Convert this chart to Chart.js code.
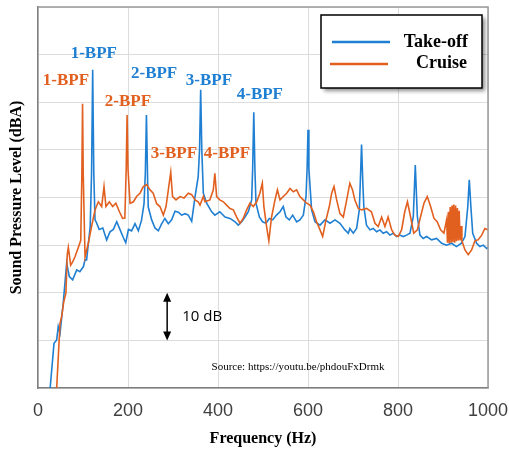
<!DOCTYPE html>
<html>
<head>
<meta charset="utf-8">
<script src="https://cdn.jsdelivr.net/npm/chart.js@4.4.0/dist/chart.umd.min.js"></script>
<style>
  html, body { margin: 0; padding: 0; background: #fff; }
</style>
</head>
<body>
<canvas id="spl" width="509" height="450"></canvas>
<script>
// values (Hz, relative dB; 10 dB per grid step)
const takeoffHz = [27, 35.6, 41.5, 45, 49, 56, 63.7, 69.6, 77, 86, 93, 101, 104.5, 108, 116, 119, 121.5, 124, 126.7, 130, 136, 144, 149, 152.6, 160, 167.4, 175, 182, 189.6, 195, 201, 208, 215.6, 223, 230, 235.6, 238.5, 241, 243.5, 245, 252.6, 260, 267.4, 275, 282, 289.6, 297, 304.5, 312, 319, 326.7, 334, 341.5, 349, 356, 359, 361.5, 364, 367.4, 374.8, 386, 393, 404, 415.6, 426.7, 437.8, 445, 452.6, 460, 467.4, 474.8, 477, 479.5, 482, 484.4, 491.9, 499, 506.7, 514, 521.5, 530, 537.8, 545, 551, 558.5, 566, 574.8, 582, 589.6, 595.6, 598, 600, 602, 608, 615.6, 626.7, 637.8, 649, 660, 671, 682, 689.6, 693, 700.6, 708, 714, 716.5, 719, 721.5, 724, 730, 737.7, 745, 752.5, 760, 767, 774.7, 782, 789.5, 797, 804, 811.7, 819, 826.6, 834, 838.4, 843, 848.8, 856, 863.6, 874.7, 885.8, 897, 908, 919, 930, 941, 948.8, 955, 958.4, 962, 966, 974.7, 982, 989.5, 997, 1000];
const takeoffDb = [0, 9.4, 10.1, 12.9, 11.5, 17.8, 26.2, 23.4, 22.7, 24.8, 24.4, 25.5, 26.9, 26.9, 33.9, 45, 66.8, 45, 35.3, 34.7, 33.3, 33.6, 32.1, 31.1, 32.8, 33.3, 34.9, 33.3, 31.6, 30.5, 33.3, 33, 34.5, 33, 35.2, 38.7, 45, 57.3, 44, 38, 35.3, 33.6, 33, 34.5, 35.6, 34.5, 35.3, 37.1, 36.9, 36.3, 36.6, 36.3, 35, 40.2, 44.4, 50, 62.6, 50, 40.9, 38.8, 37, 36.3, 37, 35.9, 35.6, 34.9, 34.2, 34.9, 35.9, 37, 39.5, 46, 57.9, 46, 38.8, 35.9, 34.9, 34.6, 35.6, 35.3, 36.3, 37, 38.1, 35.9, 35.3, 36.3, 34.9, 35.3, 36.3, 40.2, 46, 54.2, 46, 37.4, 34.9, 34.2, 35.3, 34.6, 35.3, 34.6, 33.2, 32.5, 33.5, 32.5, 33.5, 37.4, 44, 51.1, 44, 38.1, 34.2, 33.2, 33.5, 32.8, 33.2, 32.5, 32.8, 32.1, 32.5, 31.8, 32.1, 31.8, 32.1, 32.5, 36, 46.8, 36, 32.1, 31.4, 31.8, 31.1, 31.4, 30.4, 30, 30.4, 29.7, 30.4, 31.8, 38, 43.7, 38, 32.5, 30.4, 29.7, 30, 29.3, 29.5];

const cruiseHz = [41.5, 49, 52.6, 57, 62, 65, 67.4, 72.6, 77, 82, 89.6, 95, 97.5, 99, 100.5, 104.5, 112, 119, 126.7, 134, 141.5, 146.7, 151, 158.5, 166, 173, 181, 188, 193, 196, 198, 200, 204.5, 212, 219, 226.7, 234, 241.5, 249, 256, 263.7, 271, 278.5, 284.5, 289.6, 295, 299, 306.7, 315.6, 324.5, 334, 341.5, 349, 356, 360, 367.4, 371, 382, 389.6, 393, 397, 404, 412, 419, 426.7, 434, 441.5, 449, 456, 463.7, 471, 478.5, 486, 493, 498.5, 502, 508, 513, 519, 526.7, 532, 537.8, 545, 552.6, 560, 567.4, 574.8, 582, 589.6, 597, 604.4, 612, 619, 626.7, 632.6, 640, 647.4, 652.6, 657.8, 663.7, 671, 678.5, 686, 693, 699, 704, 711.7, 719, 730, 741, 748.8, 756, 763.6, 771, 778, 786, 793, 800.6, 808, 815, 821, 828, 835, 843, 850, 857.7, 865, 872.5, 880, 887, 894.7, 902, 908, 910, 912, 914, 916, 918, 920, 922, 924, 926, 928, 930, 932, 934, 936, 938, 940, 942, 948.8, 956, 963.6, 971, 978, 986, 993, 1000];
const cruiseDb = [0, 13.6, 15, 18, 19.9, 28, 29.5, 25.8, 26.5, 27.5, 29.5, 31, 45, 59.7, 45, 27.5, 30.5, 33.9, 37.4, 39.1, 38.1, 42.3, 38.1, 39.1, 38.1, 38.8, 37, 35.6, 35.7, 46, 57.3, 46, 38.8, 39.1, 40.2, 40.9, 42.3, 42.7, 41.6, 40.9, 38.7, 38.1, 36.3, 38.1, 41.6, 45.3, 40.2, 39.5, 40.2, 39.9, 40.9, 40.6, 39.5, 39.1, 38.4, 40.2, 39.1, 39.5, 41.6, 45.1, 40.2, 39.5, 39.1, 38.4, 37.7, 37.4, 35.9, 34.6, 35.6, 37.4, 38.8, 38.1, 39.1, 40.9, 43, 38.1, 33.9, 30.9, 35.9, 39.5, 41.6, 39.5, 40.2, 40.9, 41.9, 41.2, 41.6, 40.2, 39.5, 38.8, 38.4, 37, 34.9, 33.2, 31.8, 35.3, 38.1, 40.9, 42.3, 39.5, 36.6, 35.9, 39.5, 43, 41.6, 39.5, 37.7, 37.4, 37.7, 37, 34.6, 33.9, 35.9, 33.9, 35.9, 33.2, 32.1, 31.8, 33.2, 37, 39.1, 35.9, 32.5, 33.2, 35.9, 38.8, 40.2, 38.1, 35.6, 34.9, 33.2, 32.5, 35.3, 30.5, 37, 30.4, 38, 30.5, 38.3, 30.6, 38.5, 30.5, 38.3, 30.8, 37.8, 31, 37.2, 31, 34, 30.9, 29, 28, 29, 30.9, 31.1, 32.1, 33.5, 33.2];

const xTicks = [0, 200, 400, 600, 800, 1000];

const bpfText = ['1-BPF', '2-BPF', '3-BPF', '4-BPF', '1-BPF', '2-BPF', '3-BPF', '4-BPF'];
const bpfSeries = ['takeoff', 'takeoff', 'takeoff', 'takeoff', 'cruise', 'cruise', 'cruise', 'cruise'];
// where each label sits, in axis units
const bpfSpots = [[124, 70.3], [258, 66.1], [380, 64.5], [493, 61.5], [62, 64.5], [200, 60.1], [302, 49.3], [420, 49.3]];

const BLUE = '#1f7fd2';
const ORANGE = '#e2601f';
const SERIF = '"Liberation Serif", "Times New Roman", serif';

function pairs(xs, ys) {
  return xs.map((v, i) => ({ x: v, y: ys[i] }));
}

const extras = {
  id: 'extras',
  afterDatasetsDraw(chart) {
    const { ctx, chartArea: a, scales: { x, y } } = chart;
    ctx.save();

    // box edges on top and right
    ctx.strokeStyle = '#9a9a9a';
    ctx.lineWidth = 1.5;
    ctx.beginPath();
    ctx.moveTo(a.left, a.top);
    ctx.lineTo(a.right, a.top);
    ctx.lineTo(a.right, a.bottom);
    ctx.stroke();

    // BPF labels
    ctx.font = 'bold 17px ' + SERIF;
    ctx.textAlign = 'center';
    ctx.textBaseline = 'middle';
    bpfText.forEach((t, i) => {
      ctx.fillStyle = bpfSeries[i] === 'takeoff' ? BLUE : ORANGE;
      ctx.fillText(t, x.getPixelForValue(bpfSpots[i][0]), y.getPixelForValue(bpfSpots[i][1]));
    });

    // 10 dB scale arrow
    const ax = x.getPixelForValue(287);
    const y1 = y.getPixelForValue(20), y0 = y.getPixelForValue(10);
    ctx.strokeStyle = '#000';
    ctx.fillStyle = '#000';
    ctx.lineWidth = 1.5;
    ctx.beginPath();
    ctx.moveTo(ax, y1 + 6);
    ctx.lineTo(ax, y0 - 6);
    ctx.stroke();
    ctx.beginPath();
    ctx.moveTo(ax, y1); ctx.lineTo(ax - 4, y1 + 9); ctx.lineTo(ax + 4, y1 + 9); ctx.closePath();
    ctx.moveTo(ax, y0); ctx.lineTo(ax - 4, y0 - 9); ctx.lineTo(ax + 4, y0 - 9); ctx.closePath();
    ctx.fill();
    ctx.font = '15px "Open Sans", sans-serif';
    ctx.textAlign = 'left';
    ctx.fillText('10 dB', ax + 15, (y0 + y1) / 2);

    ctx.font = '11px ' + SERIF;
    ctx.textAlign = 'center';
    ctx.fillText('Source: https://youtu.be/phdouFxDrmk', 298, 367);

    // legend
    ctx.shadowColor = 'rgba(0,0,0,0.45)';
    ctx.shadowBlur = 4;
    ctx.shadowOffsetX = 3;
    ctx.shadowOffsetY = 3;
    ctx.fillStyle = '#fff';
    ctx.fillRect(321, 15, 161, 73);
    ctx.shadowColor = 'transparent';
    ctx.strokeStyle = '#000';
    ctx.lineWidth = 1.5;
    ctx.strokeRect(321, 15, 161, 73);
    ctx.lineWidth = 2.5;
    ctx.strokeStyle = BLUE;
    ctx.beginPath(); ctx.moveTo(332, 42); ctx.lineTo(390, 42); ctx.stroke();
    ctx.strokeStyle = ORANGE;
    ctx.beginPath(); ctx.moveTo(330, 64); ctx.lineTo(388, 64); ctx.stroke();
    ctx.fillStyle = '#000';
    ctx.font = 'bold 18px ' + SERIF;
    ctx.textAlign = 'right';
    ctx.fillText('Take-off', 468, 42);
    ctx.fillText('Cruise', 467, 63);

    ctx.restore();
  }
};

new Chart(document.getElementById('spl'), {
  type: 'line',
  data: {
    datasets: [
      { label: 'Cruise', data: pairs(cruiseHz, cruiseDb), borderColor: ORANGE, borderWidth: 1.6, pointRadius: 0, tension: 0 },
      { label: 'Take-off', data: pairs(takeoffHz, takeoffDb), borderColor: BLUE, borderWidth: 1.6, pointRadius: 0, tension: 0 }
    ]
  },
  options: {
    responsive: false,
    animation: false,
    layout: { padding: { left: 0, right: 21, top: 7, bottom: 0 } },
    plugins: { legend: { display: false }, tooltip: { enabled: false } },
    scales: {
      x: {
        type: 'linear',
        min: 0,
        max: 1000,
        afterBuildTicks: s => { s.ticks = xTicks.map(v => ({ value: v })); },
        afterFit: s => { s.height = 62; s.paddingLeft = 0; s.paddingRight = 0; },
        grid: { color: '#dcdcdc', drawTicks: false },
        border: { color: '#7f7f7f', width: 1.5 },
        ticks: { padding: 12, color: '#404040', callback: v => String(v), font: { family: '"Liberation Sans", Arial, sans-serif', size: 18 } },
        title: { display: true, text: 'Frequency (Hz)', color: '#000', padding: { top: 0, bottom: 2 }, font: { family: SERIF, size: 16, weight: 'bold' } }
      },
      y: {
        min: 0,
        max: 80,
        afterFit: s => { s.width = 38; s.paddingTop = 0; s.paddingBottom = 0; },
        grid: { color: '#dcdcdc', drawTicks: false },
        border: { color: '#7f7f7f', width: 1.5 },
        ticks: { stepSize: 10, display: false },
        title: { display: true, text: 'Sound Pressure Level (dBA)', color: '#000', padding: { top: 7, bottom: 0 }, font: { family: SERIF, size: 16, weight: 'bold' } }
      }
    }
  },
  plugins: [extras]
});
</script>
</body>
</html>
